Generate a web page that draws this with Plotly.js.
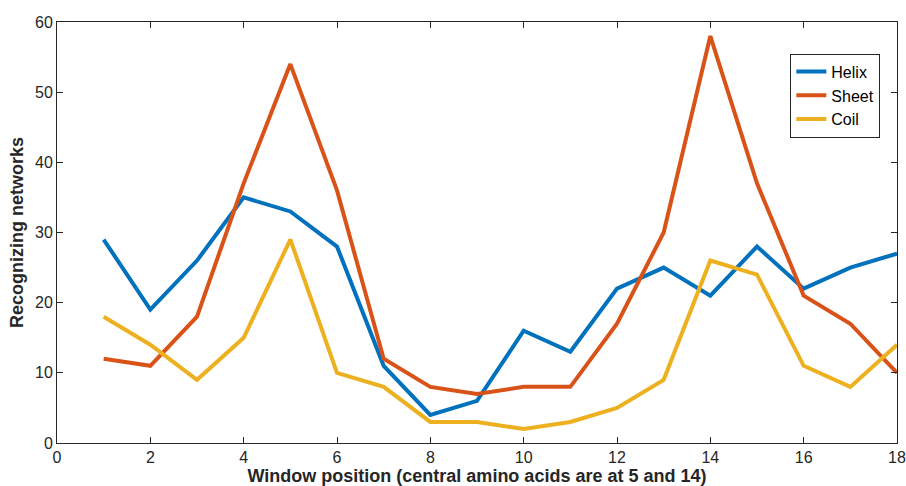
<!DOCTYPE html>
<html>
<head>
<meta charset="utf-8">
<script src="https://cdn.plot.ly/plotly-3.0.1.min.js"></script>
<style>html,body{margin:0;padding:0;background:#fff;}#chart{width:906px;height:486px;}</style>
</head>
<body>
<div id="chart"></div>
<script>
const positions = [1,2,3,4,5,6,7,8,9,10,11,12,13,14,15,16,17,18];
const helix = [29,19,26,35,33,28,11,4,6,16,13,22,25,21,28,22,25,27];
const sheet = [12,11,18,37,54,36,12,8,7,8,8,17,30,58,37,21,17,10];
const coil  = [18,14,9,15,29,10,8,3,3,2,3,5,9,26,24,11,8,14];
const seriesNames = ["Helix","Sheet","Coil"];
const seriesColors = ["#0072BD","#D95319","#EDB120"];
const seriesData = [helix, sheet, coil];

const traces = seriesData.map((d,i)=>({
  x: positions, y: d, type:'scatter', mode:'lines', name: seriesNames[i],
  line:{color: seriesColors[i], width:4}
}));

const FONT = 'Liberation Sans, Arial, Helvetica, sans-serif';
const axisCommon = {
  showgrid:false, zeroline:false, showline:true, linecolor:'#262626', linewidth:1,
  mirror:'ticks', ticks:'inside', ticklen:6, tickcolor:'#262626', tickwidth:1,
  tickfont:{family:FONT, size:16, color:'#262626'}
};

const layout = {
  width:906, height:486,
  margin:{l:57, r:9, t:22, b:43},
  paper_bgcolor:'#fff', plot_bgcolor:'#fff',
  showlegend:true,
  legend:{x:0.873, y:0.925, xanchor:'left', yanchor:'top', bgcolor:'#fff',
    bordercolor:'#262626', borderwidth:1, tracegroupgap:0, itemwidth:30,
    font:{family:FONT, size:16, color:'#000'}},
  xaxis: Object.assign({}, axisCommon, {range:[0,18], dtick:2, tick0:0,
    title:{text:'Window position (central amino acids are at 5 and 14)', standoff:2,
      font:{family:FONT, size:18, color:'#262626', weight:'bold'}}}),
  yaxis: Object.assign({}, axisCommon, {range:[0,60], dtick:10, tick0:0,
    title:{text:'Recognizing networks', standoff:6,
      font:{family:FONT, size:18, color:'#262626', weight:'bold'}}})
};

Plotly.newPlot('chart', traces, layout, {displayModeBar:false, staticPlot:true});
</script>
</body>
</html>
